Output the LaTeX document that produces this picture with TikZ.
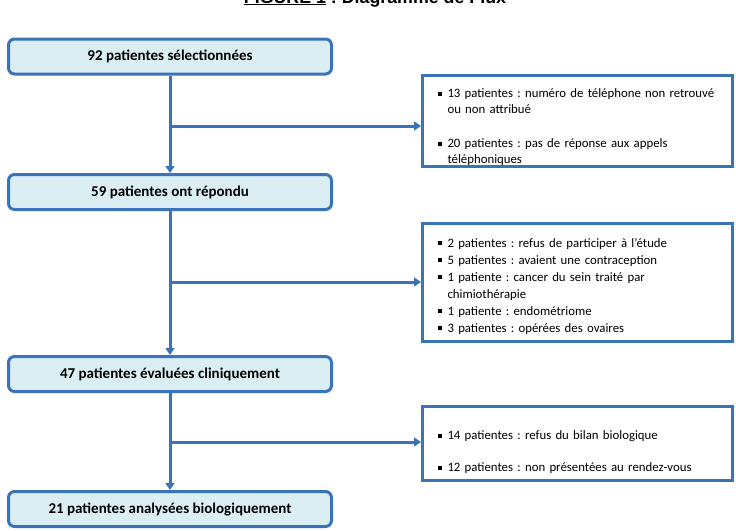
\documentclass[tikz,border=0pt]{standalone}
\usepackage{fontspec}
\setmainfont{Carlito}
\newfontfamily\arialfont{Liberation Sans}
\usetikzlibrary{arrows.meta}
\definecolor{bordblue}{HTML}{3B73B9}
\definecolor{boxfill}{HTML}{DBEEF4}
\frenchspacing
\newcommand{\sqbul}{\makebox[9.5pt][l]{\rule[0.18em]{0.3em}{0.3em}}}
\newcommand{\itm}[1]{\par\hangindent=9.5pt\hangafter=1\noindent\sqbul#1\par}
\begin{document}
\begin{tikzpicture}[x=1pt,y=-1pt,
  mainbox/.style={draw=bordblue, line width=3pt, fill=boxfill, rounded corners=6pt,
    minimum width=323pt, minimum height=35pt, inner sep=0pt,
    font=\bfseries\fontsize{15}{17}\selectfont},
  sidebox/.style={draw=bordblue, line width=3pt, fill=white, minimum width=310pt,
    text width=279pt, align=left, inner xsep=15.5pt, inner ysep=0pt,
    font=\frenchspacing\fontsize{12.8}{17}\selectfont},
  flow/.style={draw=bordblue, line width=3pt, -{Triangle[length=7pt,width=9pt]}}
]
\useasboundingbox (0,0) rectangle (736,530);
\clip (0,0) rectangle (736,530);

\node[anchor=base, font=\arialfont\bfseries\fontsize{17.8}{20}\selectfont] (title) at (375,3)
  {\underline{FIGURE 1} : Diagramme de Flux};

\node[mainbox] (b1) at (170,56.5) {92 patientes sélectionnées};
\node[mainbox] (b2) at (170,192) {59 patientes ont répondu};
\node[mainbox] (b3) at (170,374) {47 patientes évaluées cliniquement};
\node[mainbox] (b4) at (170,509) {21 patientes analysées biologiquement};

\node[sidebox, minimum height=91pt, font=\frenchspacing\fontsize{12.8}{16}\selectfont] (sA) at (577.5,121) {%
  \vspace*{6pt}
  \itm{13 patientes : numéro de téléphone non retrouvé\newline ou non attribué}
  \vspace{18pt}
  \itm{20 patientes : pas de réponse aux appels\newline téléphoniques}};
\node[sidebox, minimum height=118pt] (sB) at (577.5,282.5) {%
  \itm{2 patientes : refus de participer à l’étude}
  \itm{5 patientes : avaient une contraception}
  \itm{1 patiente : cancer du sein traité par\newline chimiothérapie}
  \itm{1 patiente : endométriome}
  \itm{3 patientes : opérées des ovaires}};
\node[sidebox, minimum height=74pt] (sC) at (577.5,443.5) {%
  \vspace*{10pt}
  \itm{14 patientes : refus du bilan biologique}
  \vspace{15pt}
  \itm{12 patientes : non présentées au rendez-vous}};

\coordinate (j1) at (170,126);
\coordinate (j2) at (170,282);
\coordinate (j3) at (170,442);

\draw[flow] (b1.south) -- (b2.north);
\draw[flow] (b2.south) -- (b3.north);
\draw[flow] (b3.south) -- (b4.north);
\draw[flow] (j1) -- (sA.west |- j1);
\draw[flow] (j2) -- (sB.west |- j2);
\draw[flow] (j3) -- (sC.west |- j3);
\end{tikzpicture}
\end{document}
